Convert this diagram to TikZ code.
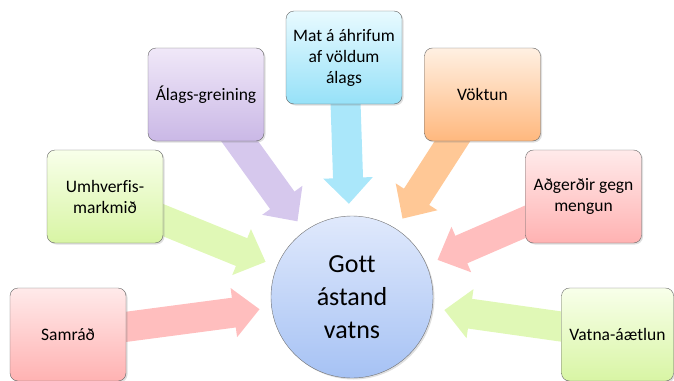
\documentclass[tikz,border=0pt]{standalone}
\usepackage{fontspec}
\setmainfont{Carlito}[Ligatures=NoCommon]
\usepackage{tikz}
\usetikzlibrary{arrows.meta,shadows,backgrounds}
\usepackage{xcolor}

\definecolor{pinkA}{RGB}{255,234,234}
\definecolor{pinkB}{RGB}{255,178,178}
\definecolor{pinkArr}{RGB}{255,190,190}
\definecolor{greenA}{RGB}{248,255,234}
\definecolor{greenB}{RGB}{216,245,164}
\definecolor{greenArr}{RGB}{224,248,182}
\definecolor{lilacA}{RGB}{240,232,248}
\definecolor{lilacB}{RGB}{202,184,230}
\definecolor{lilacArr}{RGB}{214,200,237}
\definecolor{cyanA}{RGB}{232,250,255}
\definecolor{cyanB}{RGB}{150,225,248}
\definecolor{cyanArr}{RGB}{170,231,250}
\definecolor{peachA}{RGB}{255,240,226}
\definecolor{peachB}{RGB}{255,184,126}
\definecolor{peachArr}{RGB}{255,200,150}
\definecolor{blueA}{RGB}{224,233,252}
\definecolor{blueB}{RGB}{166,194,244}

\begin{document}
\begin{tikzpicture}[x=1pt,y=-1pt,
	box/.style={draw=black!60, rounded corners=8pt, minimum width=116pt, minimum height=93pt, align=center, font=\fontsize{17.5}{21}\selectfont, drop shadow={opacity=0.25,shadow xshift=1.5pt,shadow yshift=-1.5pt}},
	feed/.style={line width=30pt, -{Triangle[length=26pt,width=48pt]}, shorten >=12pt}]
	\useasboundingbox (0,0) rectangle (674,380);
	\clip (0,0) rectangle (674,380);
	
	\node[circle, draw=black!55, minimum size=162pt, top color=blueA, bottom color=blueB, align=center, font=\fontsize{26}{33}\selectfont, drop shadow={opacity=0.25,shadow xshift=1.5pt,shadow yshift=-1.5pt}] (gott) at (352,297) {Gott\\ástand\\vatns};
	
	\node[box, top color=pinkA, bottom color=pinkB] (samrad) at (68,334.5) {Samráð};
	\node[box, top color=greenA, bottom color=greenB] (umhv) at (105,196.5) {Umhverfis-\\markmið};
	\node[box, top color=lilacA, bottom color=lilacB] (alags) at (206,94.5) {Álags-greining};
	\node[box, top color=cyanA, bottom color=cyanB] (mat) at (344,57.5) {Mat á áhrifum\\af völdum\\álags};
	\node[box, top color=peachA, bottom color=peachB] (voktun) at (482.5,94.5) {Vöktun};
	\node[box, top color=pinkA, bottom color=pinkB] (adgerdir) at (583.5,196.5) {Aðgerðir gegn\\mengun};
	\node[box, minimum width=112pt, top color=greenA, bottom color=greenB] (vatna) at (617.5,334.5) {Vatna-áætlun};
	
	\begin{scope}[on background layer]
		\draw[feed, pinkArr] (samrad.center) -- (gott);
		\draw[feed, greenArr] (umhv.center) -- (gott);
		\draw[feed, lilacArr] (alags.center) -- (gott);
		\draw[feed, cyanArr] (mat.center) -- (gott);
		\draw[feed, peachArr] (voktun.center) -- (gott);
		\draw[feed, pinkArr] (adgerdir.center) -- (gott);
		\draw[feed, greenArr] (vatna.center) -- (gott);
	\end{scope}
\end{tikzpicture}
\end{document}
